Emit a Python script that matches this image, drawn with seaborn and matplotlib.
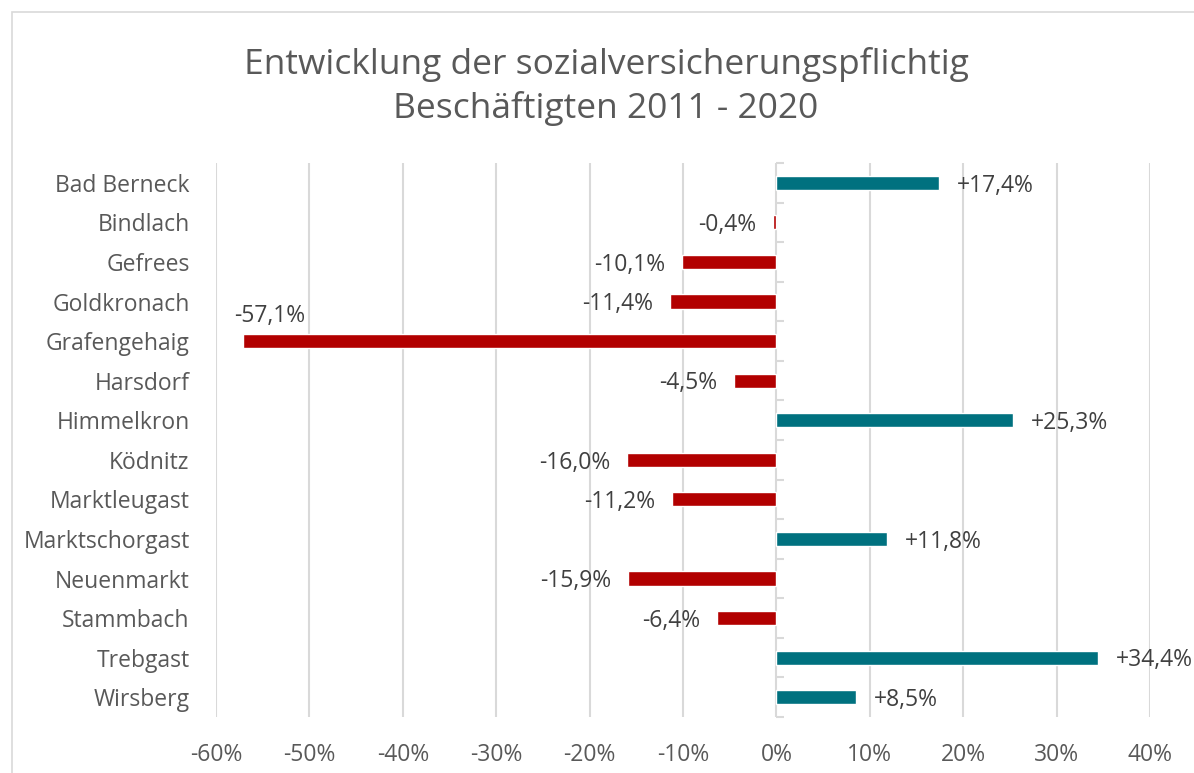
import matplotlib
matplotlib.use("Agg")
import matplotlib.pyplot as plt
import seaborn as sns
import pandas as pd
import numpy as np
from matplotlib.patches import Rectangle
from matplotlib.ticker import FuncFormatter, FixedLocator

categories = ["Bad Berneck", "Bindlach", "Gefrees", "Goldkronach", "Grafengehaig",
              "Harsdorf", "Himmelkron", "Ködnitz", "Marktleugast", "Marktschorgast",
              "Neuenmarkt", "Stammbach", "Trebgast", "Wirsberg"]
values = [17.4, -0.4, -10.1, -11.4, -57.1, -4.5, 25.3, -16.0, -11.2, 11.8,
          -15.9, -6.4, 34.4, 8.5]
xticks = [-60, -50, -40, -30, -20, -10, 0, 10, 20, 30, 40]

title = "Entwicklung der sozialversicherungspflichtig\nBeschäftigten 2011 - 2020"

POS_COLOR = "#00717F"
NEG_COLOR = "#B20000"
TEXT = "#595959"
GRID = "#D9D9D9"

sns.set_theme(style="white")
plt.rcParams["font.family"] = ["Open Sans", "DejaVu Sans"]

df = pd.DataFrame({"Gemeinde": categories, "Wert": values})
df["Vorzeichen"] = np.where(df["Wert"] >= 0, "pos", "neg")

fig = plt.figure(figsize=(11.94, 7.73), dpi=100)
ax = fig.add_axes([216/1194, 1-717/773, (1150-216)/1194, (717-163)/773])

sns.barplot(data=df, x="Wert", y="Gemeinde", hue="Vorzeichen", order=categories,
            palette={"pos": POS_COLOR, "neg": NEG_COLOR}, dodge=False,
            width=0.355, legend=False, ax=ax, saturation=1, zorder=3)

ax.set_xlim(-60, 40)
ax.set_ylim(len(categories) - 0.5, -0.5)
ax.xaxis.set_major_locator(FixedLocator(xticks))
ax.xaxis.set_major_formatter(FuncFormatter(lambda v, p: f"{int(round(v))}%"))
ax.grid(axis="x", color=GRID, linewidth=1.5, zorder=0)
ax.grid(axis="y", visible=False)
for s in ax.spines.values():
    s.set_visible(False)
ax.set_xlabel("")
ax.set_ylabel("")
ax.tick_params(axis="x", length=0, labelsize=16.5, labelcolor=TEXT, pad=19)
ax.tick_params(axis="y", length=0, labelsize=16.5, labelcolor=TEXT, pad=19)

# vertical axis at 0
sec = ax.secondary_yaxis(0.6)
sec.spines["right"].set_visible(False)
sec.spines["left"].set_color(GRID)
sec.spines["left"].set_linewidth(1.5)
sec.set_yticks(np.arange(-0.5, len(categories), 1.0))
sec.set_yticklabels([])
sec.tick_params(axis="y", length=6, width=1.5, color=GRID, direction="out")

# data labels
for i, v in enumerate(values):
    lab = (f"+{v:.1f}%" if v >= 0 else f"{v:.1f}%").replace(".", ",")
    if v >= 0:
        ax.annotate(lab, (v, i), xytext=(13, -2), textcoords="offset points",
                    ha="left", va="center", fontsize=16.5, color="#404040")
    elif v < -50:
        ax.annotate(lab, (v, i), xytext=(-6.5, 18), textcoords="offset points",
                    ha="left", va="center", fontsize=16.5, color="#404040")
    else:
        ax.annotate(lab, (v, i), xytext=(-12, -2), textcoords="offset points",
                    ha="right", va="center", fontsize=16.5, color="#404040")

fig.text(606/1194, 1-86.5/773, title, ha="center", va="center", fontsize=25.5,
         color=TEXT, linespacing=1.3)

fig.patches.append(Rectangle((12/1194, -0.05), 1.2, 1.05 - 12/773,
                             transform=fig.transFigure, fill=False,
                             edgecolor=GRID, linewidth=1.2))

fig.savefig("out.png", dpi=100)
